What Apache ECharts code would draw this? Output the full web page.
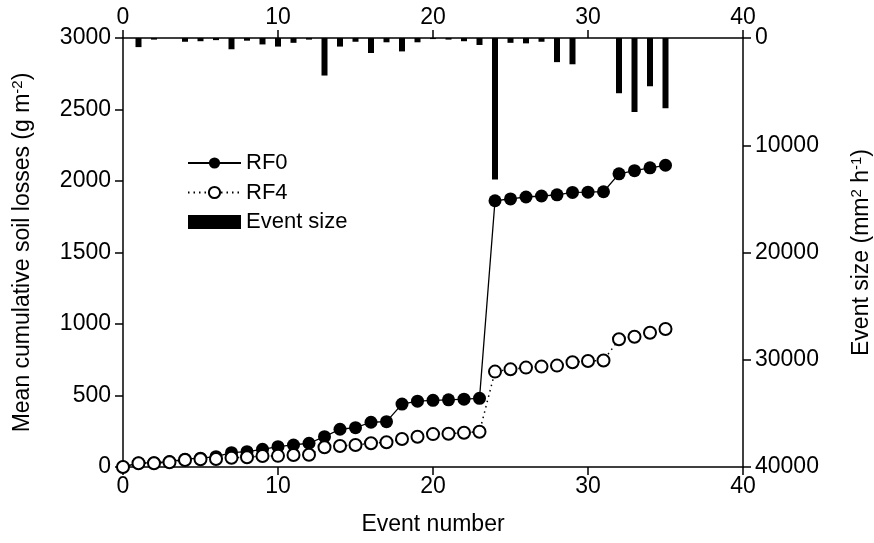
<!DOCTYPE html>
<html>
<head>
<meta charset="utf-8">
<script src="https://cdn.jsdelivr.net/npm/echarts@6/dist/echarts.min.js"></script>
<style>
html,body{margin:0;padding:0;background:#fff;}
#chart{width:874px;height:543px;}
</style>
</head>
<body>
<div id="chart"></div>
<script>
const eventNumbers = [0,1,2,3,4,5,6,7,8,9,10,11,12,13,14,15,16,17,18,19,20,21,22,23,24,25,26,27,28,29,30,31,32,33,34,35];
const rf0 = [0,28,30,38,55,62,72,100,107,124,142,154,166,212,264,275,313,317,440,460,466,470,474,480,1862,1875,1888,1895,1903,1920,1922,1925,2050,2072,2092,2110];
const rf4 = [0,26,26,33,49,54,56,65,68,77,78,84,86,138,147,154,166,173,196,212,230,232,240,247,667,683,695,702,709,732,741,745,893,911,939,965];
const eventSize = [0,850,150,0,350,300,200,1050,250,600,800,450,150,3500,800,350,1400,400,1250,400,100,150,300,650,13200,450,500,350,2250,2450,0,0,5150,6900,4500,6550];
const xTicks = [0,10,20,30,40];
const leftTicks = [0,500,1000,1500,2000,2500,3000];
const rightTicks = [0,10000,20000,30000,40000];

const FONT = "'Liberation Sans', Arial, Helvetica, sans-serif";
const FS = 23;
const pair = (xs, ys) => xs.map((x, i) => [x, ys[i]]);
const plain = v => String(v);

const chart = echarts.init(document.getElementById('chart'), null, {renderer: 'canvas'});
const axisCommon = {
  axisLine: {show: true, onZero: false, lineStyle: {color: '#000', width: 1.5}},
  axisTick: {show: true, inside: false, length: 8, lineStyle: {color: '#000', width: 1.5}},
  axisLabel: {color: '#000', fontSize: FS, fontFamily: FONT, formatter: plain},
  splitLine: {show: false}
};
const sup = {fontSize: 15, fontFamily: FONT, color: '#000', verticalAlign: 'top', padding: [0,0,10,0]};
chart.setOption({
  animation: false,
  backgroundColor: '#fff',
  textStyle: {fontFamily: FONT},
  grid: {left: 123, right: 131, top: 38, bottom: 76, containLabel: false, outerBoundsMode: 'none'},
  legend: {
    orient: 'vertical', left: 187, top: 152, padding: 0, itemWidth: 53, itemHeight: 14, itemGap: 7.5,
    textStyle: {fontSize: 22, fontFamily: FONT, color: '#000'},
    data: [{name: 'RF0'}, {name: 'RF4'}, {name: 'Event size', icon: 'rect'}]
  },
  xAxis: [
    Object.assign({}, axisCommon, {
      type: 'value', position: 'bottom', min: xTicks[0], max: xTicks[xTicks.length-1], interval: 10,
      name: 'Event number', nameLocation: 'middle', nameGap: 46,
      nameTextStyle: {fontSize: FS, fontFamily: FONT, color: '#000'},
      axisLabel: Object.assign({}, axisCommon.axisLabel, {margin: 8})
    }),
    Object.assign({}, axisCommon, {
      type: 'value', position: 'top', min: xTicks[0], max: xTicks[xTicks.length-1], interval: 10,
      axisLabel: Object.assign({}, axisCommon.axisLabel, {margin: 9})
    })
  ],
  yAxis: [
    Object.assign({}, axisCommon, {
      type: 'value', position: 'left', min: leftTicks[0], max: leftTicks[leftTicks.length-1], interval: 500,
      name: '{a|Mean cumulative soil losses (g m}{s|-2}{a|)}', nameLocation: 'middle', nameGap: 88, nameRotate: 90,
      nameTextStyle: {rich: {a: {fontSize: FS, fontFamily: FONT, color: '#000'}, s: sup}},
      axisLabel: Object.assign({}, axisCommon.axisLabel, {margin: 12})
    }),
    Object.assign({}, axisCommon, {
      type: 'value', position: 'right', inverse: true, min: rightTicks[0], max: rightTicks[rightTicks.length-1], interval: 10000,
      name: '{a|Event size (mm}{s|2}{a| h}{s|-1}{a|)}', nameLocation: 'middle', nameGap: 106, nameRotate: 90,
      nameTextStyle: {rich: {a: {fontSize: FS, fontFamily: FONT, color: '#000'}, s: sup}},
      axisLabel: Object.assign({}, axisCommon.axisLabel, {margin: 12})
    })
  ],
  series: [
    {
      name: 'Event size', type: 'bar', xAxisIndex: 0, yAxisIndex: 1,
      data: pair(eventNumbers, eventSize), barWidth: 6,
      itemStyle: {color: '#000'}, z: 1
    },
    {
      name: 'RF0', type: 'line', xAxisIndex: 0, yAxisIndex: 0,
      data: pair(eventNumbers, rf0), symbol: 'circle', symbolSize: 13,
      itemStyle: {color: '#000'}, lineStyle: {color: '#000', width: 1.3}, z: 3
    },
    {
      name: 'RF4', type: 'line', xAxisIndex: 0, yAxisIndex: 0,
      data: pair(eventNumbers, rf4), symbol: 'circle', symbolSize: 12,
      itemStyle: {color: '#fff', borderColor: '#000', borderWidth: 2},
      lineStyle: {color: '#000', width: 1.5, type: [1.5, 4]}, z: 4
    }
  ]
});
</script>
</body>
</html>
